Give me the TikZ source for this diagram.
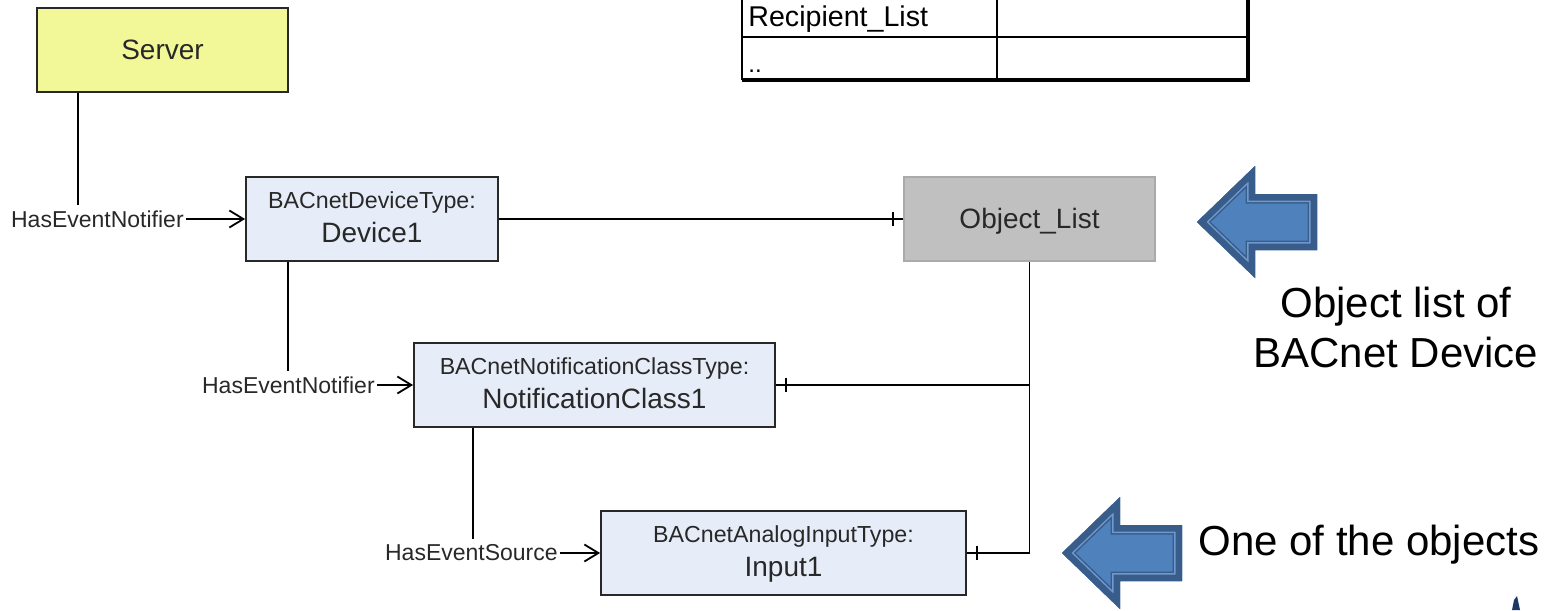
\documentclass[tikz,border=0pt]{standalone}
\usepackage{fontspec}
\setmainfont{Liberation Sans}
\usetikzlibrary{arrows.meta,decorations.markings}

\definecolor{srvyellow}{RGB}{242,248,152}
\definecolor{objblue}{RGB}{230,237,248}
\definecolor{listgray}{RGB}{192,192,192}
\definecolor{listedge}{RGB}{170,170,170}
\definecolor{inkgray}{RGB}{40,40,40}
\definecolor{arrfill}{RGB}{79,129,189}
\definecolor{arrdark}{RGB}{56,93,138}
\definecolor{arrlight}{RGB}{112,152,206}
\definecolor{logonavy}{RGB}{30,56,100}

\tikzset{
  box/.style={draw=inkgray, line width=0.9pt, fill=objblue, minimum height=42pt, inner sep=0pt},
  smalltxt/.style={font=\fontsize{11.6}{13}\selectfont, text=inkgray, inner sep=0pt, anchor=base},
  bigtxt/.style={font=\fontsize{14}{16}\selectfont, text=inkgray, inner sep=0pt, anchor=base},
  lbl/.style={font=\fontsize{11.5}{13}\selectfont, text=inkgray, inner xsep=1pt, inner ysep=2.5pt},
  conn/.style={draw=black, line width=0.9pt},
  into/.style={conn, -{Straight Barb[length=7pt,width=8.5pt]}},
  tickend/.style={postaction={decorate, decoration={markings,
      mark=at position -5pt with {\draw[conn] (0,-3.5pt) -- (0,3.5pt);}}}},
  calltxt/.style={font=\fontsize{21}{25}\selectfont, inner sep=0pt},
  blockarrow/.pic={
    \begin{scope}
      \clip (0,0) -- (58,-56) -- (58,-28) -- (120,-28) -- (120,28) -- (58,28) -- (58,56) -- cycle;
      \fill[arrfill] (0,0) -- (58,-56) -- (58,-28) -- (120,-28) -- (120,28) -- (58,28) -- (58,56) -- cycle;
      \draw[arrdark, line width=9.5pt] (0,0) -- (58,-56) -- (58,-28) -- (120,-28) -- (120,28) -- (58,28) -- (58,56) -- cycle;
      \draw[arrlight, line width=8pt] (0,0) -- (58,-56) -- (58,-28) -- (120,-28) -- (120,28) -- (58,28) -- (58,56) -- cycle;
      \draw[arrdark, line width=6.5pt] (0,0) -- (58,-56) -- (58,-28) -- (120,-28) -- (120,28) -- (58,28) -- (58,56) -- cycle;
    \end{scope}
  }
}

\begin{document}
\begin{tikzpicture}[x=0.5pt, y=-0.5pt]
\useasboundingbox (0,0) rectangle (1562,610);

% property table (top part cut off)
\draw[line width=0.75pt] (742,-4) -- (742,80);
\draw[line width=0.75pt] (997,-4) -- (997,80);
\draw[line width=0.75pt] (742,37) -- (1248,37);
\draw[line width=1.8pt] (1248,-4) -- (1248,80) -- (742,80);
\node[anchor=base west, font=\fontsize{14.3}{16}\selectfont, inner sep=0pt] (rlist) at (748,27) {Recipient\_List};
\node[anchor=base west, font=\fontsize{12}{14}\selectfont, inner sep=0pt] (more) at (748,73) {..};

% object boxes
\node[box, fill=srvyellow, minimum width=125.5pt] (srv) at (162.5,50) {};
\node[bigtxt] (srv-n) at ([yshift=-5pt]srv.center) {Server};

\node[box, minimum width=126pt] (dev) at (372,219) {};
\node[smalltxt] (dev-t) at ([yshift=5.5pt]dev.center) {BACnetDeviceType:};
\node[bigtxt] (dev-n) at ([yshift=-11.5pt]dev.center) {Device1};

\node[box, fill=listgray, draw=listedge, minimum width=125.5pt] (obj) at (1029.5,219) {};
\node[bigtxt] (obj-n) at ([yshift=-4.5pt]obj.center) {Object\_List};

\node[box, minimum width=180.5pt] (nc) at (594.5,385) {};
\node[smalltxt] (nc-t) at ([yshift=5.5pt]nc.center) {BACnetNotificationClassType:};
\node[bigtxt] (nc-n) at ([yshift=-11.5pt]nc.center) {NotificationClass1};

\node[box, minimum width=182.5pt] (in1) at (783.5,553) {};
\node[smalltxt] (in1-t) at ([yshift=5.5pt]in1.center) {BACnetAnalogInputType:};
\node[bigtxt] (in1-n) at ([yshift=-11.5pt]in1.center) {Input1};

% reference labels
\node[lbl, anchor=east] (l1) at ([xshift=-29.5pt]dev.west) {HasEventNotifier};
\node[lbl, anchor=east] (l2) at ([xshift=-18pt]nc.west) {HasEventNotifier};
\node[lbl, anchor=east] (l3) at ([xshift=-20pt]in1.west) {HasEventSource};

% references
\draw[conn] ([xshift=21pt]srv.south west) coordinate (s1) -- (s1 |- l1.north);
\draw[into] (l1.east) -- (dev.west);
\draw[conn] ([xshift=21.5pt]dev.south west) coordinate (d1) -- (d1 |- l2.north);
\draw[into] (l2.east) -- (nc.west);
\draw[conn] ([xshift=30pt]nc.south west) coordinate (n1) -- (n1 |- l3.north);
\draw[into] (l3.east) -- (in1.west);

% object list links
\draw[conn, tickend] (dev.east) -- (obj.west);
\draw[conn, tickend] (obj.south) |- (in1.east);
\coordinate (j1) at (obj.south |- nc.east);
\draw[conn, tickend] (j1) -- (nc.east);

% callouts
\pic at (1197,222) {blockarrow};
\pic at (1062,553) {blockarrow};
\node[calltxt, anchor=base] (note1) at (1396,317) {Object list of};
\node[calltxt, anchor=base] (note2) at (1396,367) {BACnet Device};
\node[calltxt, anchor=base west] (note3) at (1198,555) {One of the objects};

% edge of a cropped emblem
\fill[logonavy] (1512,610) -- (1514,600) -- (1517,596) -- (1520,610) -- cycle;
\end{tikzpicture}
\end{document}
